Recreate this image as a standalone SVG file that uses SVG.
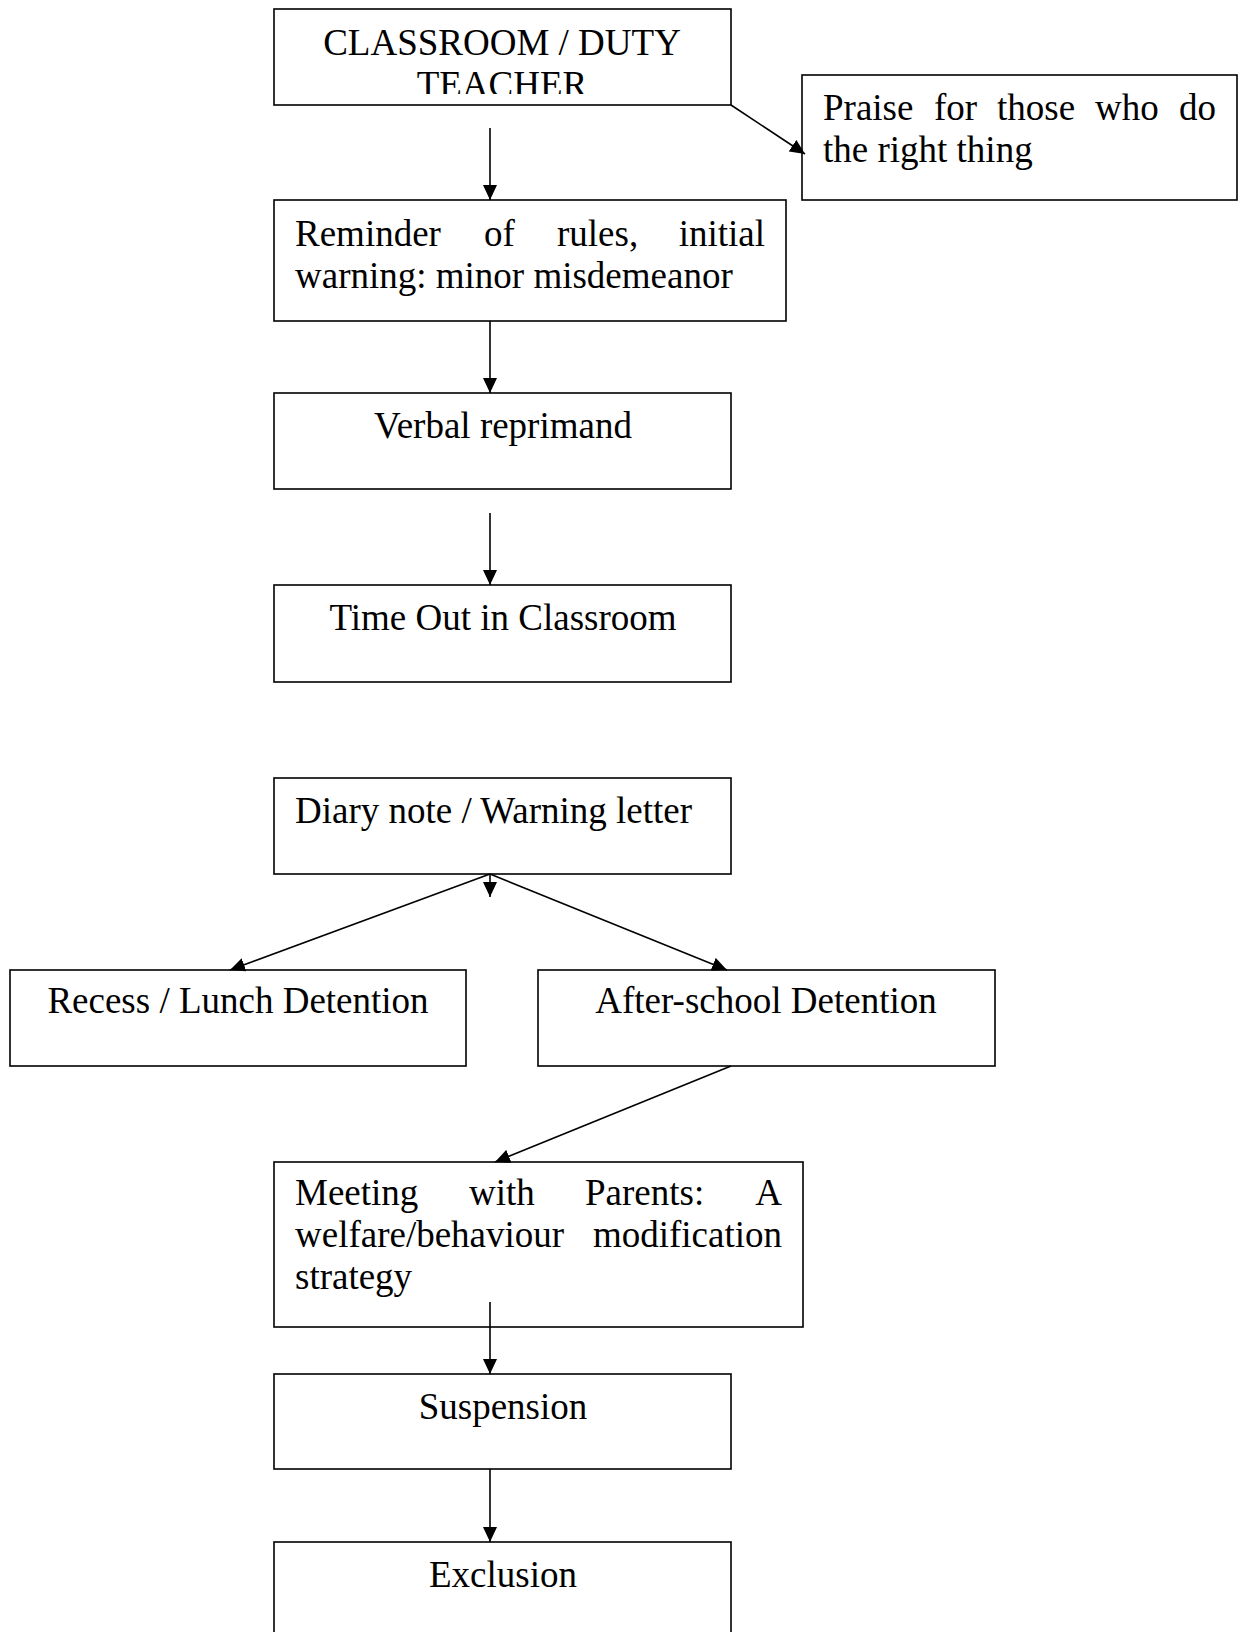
<svg xmlns="http://www.w3.org/2000/svg" width="1245" height="1632" viewBox="0 0 1245 1632">
<defs>
<style>
.box{fill:#fff;stroke:#000;stroke-width:1.6}
.t{font-family:"Liberation Serif","Times New Roman",serif;font-size:37px;fill:#000}
.c{text-anchor:middle}
.e{text-anchor:end}
.ln{stroke:#000;stroke-width:1.6;fill:none;marker-end:url(#ah)}
</style>
<marker id="ah" markerUnits="userSpaceOnUse" markerWidth="15" markerHeight="14" refX="15" refY="7" orient="auto">
<path d="M0,0 L15,7 L0,14 z" fill="#000"/>
</marker>
<clipPath id="clip1"><rect x="274" y="9" width="457" height="85"/></clipPath>
</defs>
<rect width="1245" height="1632" fill="#fff"/>
<g id="n1">
<rect class="box" x="274" y="9" width="457" height="96"/>
<g clip-path="url(#clip1)">
<text class="t c" x="502" y="55">CLASSROOM / DUTY</text>
<text class="t c" x="502" y="97">TEACHER</text>
</g>
</g>
<g id="n2">
<rect class="box" x="802" y="75" width="435" height="125"/>
<text class="t" x="823" y="120">Praise</text>
<text class="t" x="934" y="120">for</text>
<text class="t" x="997" y="120">those</text>
<text class="t" x="1095" y="120">who</text>
<text class="t e" x="1216" y="120">do</text>
<text class="t" x="823" y="162">the right thing</text>
</g>
<g id="n3">
<rect class="box" x="274" y="200" width="512" height="121"/>
<text class="t" x="295" y="246">Reminder</text>
<text class="t" x="484" y="246">of</text>
<text class="t" x="557" y="246">rules,</text>
<text class="t e" x="765" y="246">initial</text>
<text class="t" x="295" y="288">warning: minor misdemeanor</text>
</g>
<g id="n4">
<rect class="box" x="274" y="393" width="457" height="96"/>
<text class="t c" x="503" y="438">Verbal reprimand</text>
</g>
<g id="n5">
<rect class="box" x="274" y="585" width="457" height="97"/>
<text class="t c" x="503" y="630">Time Out in Classroom</text>
</g>
<g id="n6">
<rect class="box" x="274" y="778" width="457" height="96"/>
<text class="t" x="295" y="823">Diary note / Warning letter</text>
</g>
<g id="n7">
<rect class="box" x="10" y="970" width="456" height="96"/>
<text class="t c" x="238" y="1013">Recess / Lunch Detention</text>
</g>
<g id="n8">
<rect class="box" x="538" y="970" width="457" height="96"/>
<text class="t c" x="766" y="1013">After-school Detention</text>
</g>
<g id="n9">
<rect class="box" x="274" y="1162" width="529" height="165"/>
<text class="t" x="295" y="1205">Meeting</text>
<text class="t" x="469" y="1205">with</text>
<text class="t" x="585" y="1205">Parents:</text>
<text class="t e" x="782" y="1205">A</text>
<text class="t" x="295" y="1247">welfare/behaviour</text>
<text class="t e" x="782" y="1247">modification</text>
<text class="t" x="295" y="1289">strategy</text>
</g>
<g id="n10">
<rect class="box" x="274" y="1374" width="457" height="95"/>
<text class="t c" x="503" y="1419">Suspension</text>
</g>
<g id="n11">
<rect class="box" x="274" y="1542" width="457" height="120"/>
<text class="t c" x="503" y="1587">Exclusion</text>
</g>
<g id="connectors">
<line class="ln" x1="731" y1="105" x2="805" y2="154"/>
<line class="ln" x1="490" y1="128" x2="490" y2="200"/>
<line class="ln" x1="490" y1="321" x2="490" y2="393"/>
<line class="ln" x1="490" y1="513" x2="490" y2="585"/>
<line class="ln" x1="490" y1="874" x2="490" y2="897"/>
<line class="ln" x1="490" y1="874" x2="230" y2="970"/>
<line class="ln" x1="490" y1="874" x2="727" y2="970"/>
<line class="ln" x1="731" y1="1066" x2="495" y2="1162"/>
<line class="ln" x1="490" y1="1302" x2="490" y2="1374"/>
<line class="ln" x1="490" y1="1469" x2="490" y2="1542"/>
</g>
</svg>
